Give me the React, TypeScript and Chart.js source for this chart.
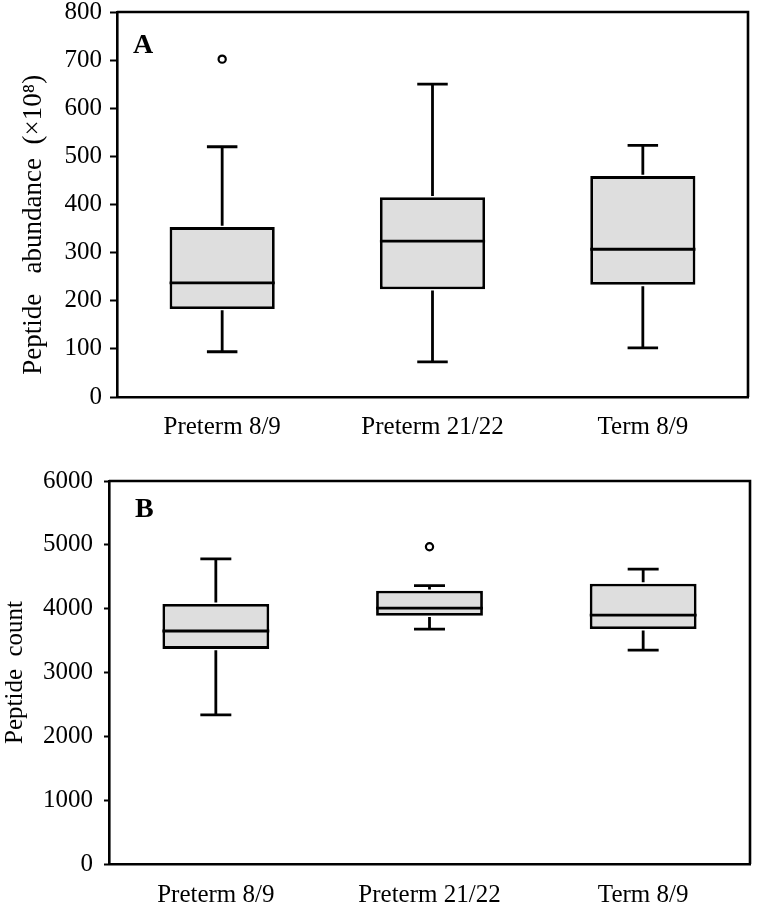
import React, { useEffect, useRef } from "react";
import { Chart, registerables } from "chart.js";

Chart.register(...registerables);

const categories = ["Preterm 8/9", "Preterm 21/22", "Term 8/9"];

// Panel A: peptide abundance (x10^8)
const abundanceMin = [94, 73, 102];
const abundanceQ1 = [183, 224, 233];
const abundanceMedian = [237, 324, 307];
const abundanceQ3 = [353, 415, 459];
const abundanceMax = [520, 650, 523];
const abundanceOutliers = [702, null, null];
const abundanceTicks = { min: 0, max: 800, step: 100 };

// Panel B: peptide count
const countMin = [2335, 3680, 3350];
const countQ1 = [3370, 3890, 3680];
const countMedian = [3650, 4010, 3900];
const countQ3 = [4075, 4280, 4390];
const countMax = [4780, 4360, 4620];
const countOutliers = [null, 4970, null];
const countTicks = { min: 0, max: 6000, step: 1000 };

const FONT = "'Liberation Serif', 'Times New Roman', serif";
const INK = "#000";
const BOX_FILL = "#dedede";
const LW = 2.8;
const AXIS_LW = 2.6;

const boxExtras = {
  id: "boxExtras",
  afterDatasetsDraw(chart: any, _args: any, opts: any) {
    const meta = chart.getDatasetMeta(0);
    const y = chart.scales.y;
    const ctx = chart.ctx;
    ctx.save();
    ctx.strokeStyle = INK;
    ctx.lineWidth = LW;
    ctx.lineCap = "butt";
    meta.data.forEach((bar: any, i: number) => {
      const x = bar.x;
      const half = bar.width / 2;
      const cap = bar.width * 0.145;
      const yMin = y.getPixelForValue(opts.min[i]);
      const yMax = y.getPixelForValue(opts.max[i]);
      const yQ1 = y.getPixelForValue(opts.q1[i]);
      const yQ3 = y.getPixelForValue(opts.q3[i]);
      const yMed = y.getPixelForValue(opts.median[i]);
      ctx.beginPath();
      ctx.moveTo(x, yQ3 - LW / 2);
      ctx.lineTo(x, yMax);
      ctx.moveTo(x - cap, yMax);
      ctx.lineTo(x + cap, yMax);
      ctx.moveTo(x, yQ1 + LW / 2);
      ctx.lineTo(x, yMin);
      ctx.moveTo(x - cap, yMin);
      ctx.lineTo(x + cap, yMin);
      ctx.moveTo(x - half, yMed);
      ctx.lineTo(x + half, yMed);
      ctx.stroke();
    });
    ctx.restore();
  },
};

const frame = {
  id: "frame",
  afterDraw(chart: any, _args: any, opts: any) {
    const { left, right, top, bottom } = chart.chartArea;
    const ctx = chart.ctx;
    ctx.save();
    ctx.strokeStyle = INK;
    ctx.lineWidth = AXIS_LW;
    ctx.beginPath();
    ctx.moveTo(left, top);
    ctx.lineTo(right, top);
    ctx.lineTo(right, bottom);
    ctx.stroke();
    ctx.fillStyle = INK;
    ctx.font = `bold 28px ${FONT}`;
    ctx.textBaseline = "alphabetic";
    ctx.fillText(opts.label, left + opts.dx, top + opts.dy);
    ctx.restore();
  },
};

type PanelProps = {
  height: number;
  top: number;
  mins: number[];
  q1: number[];
  medians: number[];
  q3: number[];
  maxs: number[];
  outliers: (number | null)[];
  ticks: { min: number; max: number; step: number };
  title: string;
  titleSize: number;
  label: string;
  yWidth: number;
  xHeight: number;
  pad: { top: number; right: number };
  titlePad: number;
  tickLen: number;
  tickPad: number;
  catPad: number;
  labelDx: number;
  labelDy: number;
};

function Panel(p: PanelProps) {
  const ref = useRef<HTMLCanvasElement | null>(null);
  useEffect(() => {
    if (!ref.current) return;
    const chart = new Chart(ref.current, {
      type: "bar",
      data: {
        labels: categories,
        datasets: [
          {
            type: "bar",
            data: p.q1.map((v, i) => [v, p.q3[i]]) as any,
            backgroundColor: BOX_FILL,
            borderColor: INK,
            borderWidth: LW,
            borderSkipped: false,
            barPercentage: 0.5,
            categoryPercentage: 1,
            order: 2,
          },
          {
            type: "line",
            data: p.outliers as any,
            showLine: false,
            pointRadius: 3.6,
            pointBorderWidth: 2.2,
            pointBackgroundColor: "#fff",
            pointBorderColor: INK,
            borderColor: INK,
            order: 1,
          },
        ],
      },
      options: {
        animation: false,
        responsive: false,
        maintainAspectRatio: false,
        layout: {
          autoPadding: false,
          padding: { top: p.pad.top, right: p.pad.right, left: 0, bottom: 0 },
        } as any,
        plugins: {
          legend: { display: false },
          tooltip: { enabled: false },
          boxExtras: { min: p.mins, max: p.maxs, q1: p.q1, q3: p.q3, median: p.medians },
          frame: { label: p.label, dx: p.labelDx, dy: p.labelDy },
        } as any,
        scales: {
          x: {
            grid: { display: false, drawTicks: false },
            border: { display: true, color: INK, width: AXIS_LW },
            ticks: { color: INK, font: { family: FONT, size: 25 }, padding: p.catPad },
            afterFit: (s: any) => {
              s.height = p.xHeight;
              s.paddingLeft = 0;
              s.paddingRight = 0;
            },
          },
          y: {
            min: p.ticks.min,
            max: p.ticks.max,
            grid: {
              drawOnChartArea: false,
              drawTicks: true,
              tickLength: p.tickLen,
              tickColor: INK,
              tickWidth: 2,
              color: INK,
            },
            border: { display: true, color: INK, width: AXIS_LW },
            ticks: {
              stepSize: p.ticks.step,
              color: INK,
              font: { family: FONT, size: 25 },
              padding: p.tickPad,
              callback: (v: any) => String(v),
            },
            title: {
              display: true,
              text: p.title,
              color: INK,
              font: { family: FONT, size: p.titleSize },
              padding: { top: p.titlePad, bottom: 0 },
            },
            afterFit: (s: any) => {
              s.width = p.yWidth;
              s.paddingTop = 0;
              s.paddingBottom = 0;
            },
          },
        },
      },
      plugins: [boxExtras, frame],
    });
    return () => chart.destroy();
  }, []);
  return (
    <div style={{ position: "absolute", left: 0, top: p.top, width: 757, height: p.height }}>
      <canvas ref={ref} width={757} height={p.height} style={{ display: "block" }} />
    </div>
  );
}

export default function App() {
  return (
    <div style={{ position: "absolute", left: 0, top: 0, width: 757, height: 907, background: "#fff" }}>
      <Panel
        top={0}
        height={450}
        mins={abundanceMin}
        q1={abundanceQ1}
        medians={abundanceMedian}
        q3={abundanceQ3}
        maxs={abundanceMax}
        outliers={abundanceOutliers}
        ticks={abundanceTicks}
        title={"Peptide   abundance  (×10⁸)      "}
        titleSize={27}
        label="A"
        yWidth={117}
        xHeight={53}
        pad={{ top: 12, right: 9 }}
        titlePad={18}
        tickLen={7}
        tickPad={8}
        catPad={15}
        labelDx={16}
        labelDy={41}
      />
      <Panel
        top={450}
        height={457}
        mins={countMin}
        q1={countQ1}
        medians={countMedian}
        q3={countQ3}
        maxs={countMax}
        outliers={countOutliers}
        ticks={countTicks}
        title={"Peptide  count"}
        titleSize={25}
        label="B"
        yWidth={109}
        xHeight={43}
        pad={{ top: 31, right: 7 }}
        titlePad={0}
        tickLen={5}
        tickPad={11}
        catPad={16}
        labelDx={26}
        labelDy={36}
      />
    </div>
  );
}
